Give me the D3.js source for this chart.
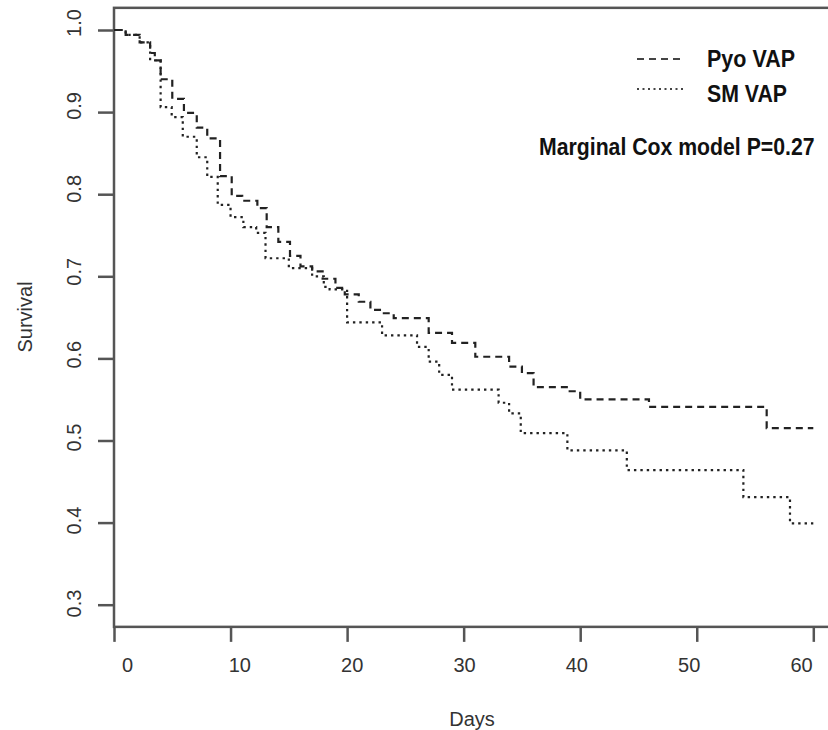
<!DOCTYPE html>
<html>
<head>
<meta charset="utf-8">
<script src="https://cdn.jsdelivr.net/npm/d3@7"></script>
<style>
  html, body { margin: 0; padding: 0; background: #fff; }
  svg { display: block; font-family: "Liberation Sans", Arial, sans-serif; }
</style>
</head>
<body>
<svg id="chart" width="828" height="730"></svg>
<script>
// --- Data ---
// Pyo VAP, dashed: step times (days) and survival after each step
const pyoTimes = [0, 1, 2.2, 3.1, 3.5, 4.0, 5.0, 6.0, 7.1, 8.0, 9.1, 10.1, 11.0, 12.3, 13.1, 14.1, 15.1, 16.0, 17.0, 17.9, 19.0, 19.8, 21.0, 22.0, 23.0, 24.0, 27.0, 29.0, 31.0, 33.9, 35.0, 36.0, 39.1, 40.0, 45.9, 56.0, 60];
const pyoSurv  = [1.0, 0.994, 0.985, 0.972, 0.963, 0.94, 0.916, 0.899, 0.881, 0.868, 0.822, 0.798, 0.792, 0.783, 0.760, 0.742, 0.725, 0.712, 0.706, 0.697, 0.686, 0.678, 0.669, 0.659, 0.655, 0.649, 0.631, 0.619, 0.602, 0.590, 0.582, 0.565, 0.560, 0.550, 0.541, 0.515, 0.515];

// SM VAP, dotted
const smTimes = [0, 1, 2.2, 3.1, 4.0, 4.95, 5.9, 7.1, 8.0, 8.9, 10.0, 11.1, 12.2, 13.0, 15.0, 17.0, 18.0, 18.5, 20.0, 23.0, 26.0, 27.0, 27.9, 29.0, 33.0, 33.9, 34.9, 38.9, 44.0, 54.0, 58.0, 60];
const smSurv  = [1.0, 0.994, 0.985, 0.963, 0.906, 0.894, 0.870, 0.845, 0.821, 0.787, 0.772, 0.760, 0.753, 0.722, 0.710, 0.700, 0.687, 0.684, 0.644, 0.628, 0.614, 0.596, 0.580, 0.562, 0.546, 0.533, 0.509, 0.488, 0.464, 0.431, 0.399, 0.399];

const xTicks = [0, 10, 20, 30, 40, 50, 60];
const yTicks = [0.3, 0.4, 0.5, 0.6, 0.7, 0.8, 0.9, 1.0];
const seriesNames = ["Pyo VAP", "SM VAP"];
const noteText = "Marginal Cox model P=0.27";

// --- Scales ---
const svg = d3.select("#chart");
const x = d3.scaleLinear().domain([0, 60]).range([114, 813.3]);
const y = d3.scaleLinear().domain([0.3, 1.0]).range([604.7, 30]);
// tick labels in the picture sit on a slightly different spacing than the ticks
const xLab = d3.scaleLinear().domain([0, 60]).range([127, 801]);
const yLab = d3.scaleLinear().domain([0.3, 1.0]).range([603, 22.5]);
const axisColor = "#555";

// plot frame (R style, extends past the right edge)
const x0 = x(0), x1 = x(62.4), yTop = y(1.027), yBot = y(0.273);
svg.append("rect")
    .attr("x", x0).attr("y", yTop)
    .attr("width", x1 - x0).attr("height", yBot - yTop)
    .attr("fill", "none").attr("stroke", axisColor).attr("stroke-width", 2.5);

// --- Axes ---
const xAxis = svg.append("g")
    .attr("transform", `translate(0,${yBot})`)
    .call(d3.axisBottom(x).tickValues(xTicks).tickSize(15).tickPadding(16).tickFormat(d3.format("d")));
xAxis.select(".domain").remove();
xAxis.selectAll(".tick line").attr("stroke", axisColor).attr("stroke-width", 2.5);
xAxis.selectAll(".tick text")
    .attr("x", d => xLab(d) - x(d))
    .attr("fill", "#333").attr("font-size", 20)
    .attr("font-family", "Liberation Sans, Arial, sans-serif");

const yAxis = svg.append("g")
    .attr("transform", `translate(${x0},0)`)
    .call(d3.axisLeft(y).tickValues(yTicks).tickSize(16).tickFormat(d3.format(".1f")));
yAxis.select(".domain").remove();
yAxis.selectAll(".tick line").attr("stroke", axisColor).attr("stroke-width", 2.5);
yAxis.selectAll(".tick text")
    .attr("x", 0).attr("dy", "0.35em")
    .attr("text-anchor", "middle")
    .attr("transform", d => `translate(-40,${yLab(d) - y(d)}) rotate(-90)`)
    .attr("fill", "#333").attr("font-size", 20)
    .attr("font-family", "Liberation Sans, Arial, sans-serif");

// axis titles
svg.append("text")
    .attr("x", 472).attr("y", 726)
    .attr("text-anchor", "middle")
    .attr("font-size", 20).attr("fill", "#333")
    .text("Days");
svg.append("text")
    .attr("transform", "translate(25,317) rotate(-90)")
    .attr("dy", "0.35em")
    .attr("text-anchor", "middle")
    .attr("font-size", 20).attr("fill", "#333")
    .text("Survival");

// --- Survival curves ---
const step = d3.line()
    .x(d => x(d[0]))
    .y(d => y(d[1]))
    .curve(d3.curveStepAfter);

svg.append("path")
    .datum(d3.zip(pyoTimes, pyoSurv))
    .attr("d", step)
    .attr("fill", "none").attr("stroke", "#222")
    .attr("stroke-width", 2.2).attr("stroke-dasharray", "7,5");

svg.append("path")
    .datum(d3.zip(smTimes, smSurv))
    .attr("d", step)
    .attr("fill", "none").attr("stroke", "#222")
    .attr("stroke-width", 2.2).attr("stroke-dasharray", "2.4,4");

// --- Legend ---
const legend = svg.append("g");
const legendDash = ["7,5", "2,3.5"];
const legendY = [59, 89];
const legendTextY = [67, 102];
const legendLen = [88, 80];
seriesNames.forEach((name, i) => {
    legend.append("line")
        .attr("x1", 637).attr("x2", 685)
        .attr("y1", legendY[i]).attr("y2", legendY[i])
        .attr("stroke", "#444").attr("stroke-width", 1.8)
        .attr("stroke-dasharray", legendDash[i]);
    legend.append("text")
        .attr("x", 707).attr("y", legendTextY[i])
        .attr("font-size", 24).attr("font-weight", "bold").attr("fill", "#111")
        .attr("textLength", legendLen[i]).attr("lengthAdjust", "spacingAndGlyphs")
        .text(name);
});

// condensed bold note, squeezed horizontally like the picture
svg.append("text")
    .attr("transform", "translate(539,155) scale(0.885,1)")
    .attr("font-size", 24).attr("font-weight", "bold").attr("fill", "#111")
    .text(noteText);
</script>
</body>
</html>
